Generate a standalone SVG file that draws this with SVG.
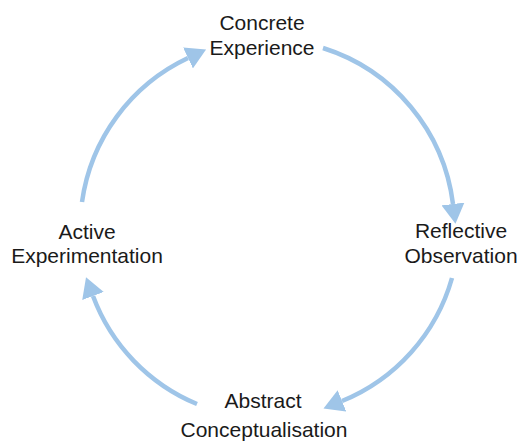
<svg xmlns="http://www.w3.org/2000/svg" width="517" height="443" viewBox="0 0 517 443">
<style>
.lbl{font-family:"Liberation Sans",Arial,sans-serif;font-size:21px;fill:#1a1a1a;text-anchor:middle}
.arc{fill:none;stroke:#9fc5e8;stroke-width:4.5;marker-end:url(#ah)}
</style>
<defs>
<marker id="ah" markerUnits="userSpaceOnUse" viewBox="0 0 20 23" markerWidth="20" markerHeight="23" refX="0" refY="11.5" orient="auto">
<path d="M0,0 L20,11.5 L0,23 z" fill="#9fc5e8"/>
</marker>
</defs>
<rect width="517" height="443" fill="#fff"/>
<g id="connectors">
<path class="arc" d="M323,48 A188,188 0 0 1 453,204"/>
<path class="arc" d="M452,278 A188,188 0 0 1 342,401"/>
<path class="arc" d="M197,404 A188,188 0 0 1 93,296"/>
<path class="arc" d="M82,202 A188,188 0 0 1 188,58"/>
</g>
<g id="concrete-experience"><text class="lbl" x="262" y="30">Concrete</text><text class="lbl" x="262" y="55">Experience</text></g>
<g id="reflective-observation"><text class="lbl" x="461" y="238">Reflective</text><text class="lbl" x="461" y="263">Observation</text></g>
<g id="abstract-conceptualisation"><text class="lbl" x="263" y="408">Abstract</text><text class="lbl" x="264" y="437">Conceptualisation</text></g>
<g id="active-experimentation"><text class="lbl" x="87" y="239">Active</text><text class="lbl" x="87" y="263">Experimentation</text></g>
</svg>
